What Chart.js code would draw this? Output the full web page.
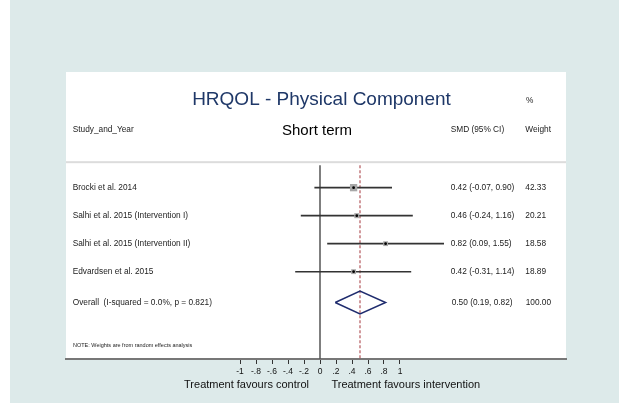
<!DOCTYPE html>
<html>
<head>
<meta charset="utf-8">
<script src="https://cdn.jsdelivr.net/npm/chart.js@4/dist/chart.umd.min.js"></script>
<style>
html,body{margin:0;padding:0;background:#ddeaea;overflow:hidden;}
canvas{display:block;}
</style>
</head>
<body>
<canvas id="c" width="619" height="403"></canvas>
<script>
// ---- data ----
const studies = ["Brocki et al. 2014", "Salhi et al. 2015 (Intervention I)", "Salhi et al. 2015 (Intervention II)", "Edvardsen et al. 2015"];
const smd = [0.42, 0.46, 0.82, 0.42];
const ciLow = [-0.07, -0.24, 0.09, -0.31];
const ciHigh = [0.90, 1.16, 1.55, 1.14];
const weights = [42.33, 20.21, 18.58, 18.89];
const overallLabel = "Overall  (I-squared = 0.0%, p = 0.821)";
const overallSmd = 0.50;
const overallLow = 0.19;
const overallHigh = 0.82;
const overallWeight = 100.00;
const tickValues = [-1, -0.8, -0.6, -0.4, -0.2, 0, 0.2, 0.4, 0.6, 0.8, 1];
const tickLabels = ["-1", "-.8", "-.6", "-.4", "-.2", "0", ".2", ".4", ".6", ".8", "1"];
const titleText = "HRQOL - Physical Component";
const subtitleText = "Short term";
const axisTitleLeft = "Treatment favours control";
const axisTitleRight = "Treatment favours intervention";
const noteText = "NOTE: Weights are from random effects analysis";

// ---- layout constants ----
const FONT = "'Liberation Sans', Arial, sans-serif";
const rows = studies.map((_, i) => i + 1);
const overallRow = 5.1;
const lineTop = 0.2;
const yMin = -3.13, yMax = 7.118;

const fmt = v => v.toFixed(2);

const datasets = [];
// CI lines
studies.forEach((s, i) => {
  datasets.push({
    type: 'line', order: 3,
    data: [{x: ciLow[i], y: rows[i]}, {x: ciHigh[i], y: rows[i]}],
    borderColor: '#333', borderWidth: 1.6, pointRadius: 0, showLine: true
  });
});
// zero line
datasets.push({
  type: 'line', order: 5, data: [{x: 0, y: lineTop}, {x: 0, y: yMax}],
  borderColor: '#555', borderWidth: 1.5, pointRadius: 0, showLine: true
});
// overall dashed line
datasets.push({
  type: 'line', order: 4, data: [{x: overallSmd, y: lineTop}, {x: overallSmd, y: yMax}],
  borderColor: '#a3353a', borderWidth: 1, borderDash: [3, 2], pointRadius: 0, showLine: true
});
// weight squares
datasets.push({
  type: 'scatter', order: 1,
  data: smd.map((v, i) => ({x: v, y: rows[i]})),
  pointStyle: 'rect',
  pointRadius: ctx => 1.12 * Math.sqrt(weights[ctx.dataIndex]) / Math.SQRT2,
  backgroundColor: '#a8a8a8', borderWidth: 0
});
// center dots
datasets.push({
  type: 'scatter', order: 0,
  data: smd.map((v, i) => ({x: v, y: rows[i]})),
  pointStyle: 'circle', pointRadius: 1.4, backgroundColor: '#000', borderWidth: 0
});
// diamond
const dh = 0.41;
datasets.push({
  type: 'line', order: 2,
  data: [
    {x: overallLow, y: overallRow}, {x: overallSmd, y: overallRow - dh},
    {x: overallHigh, y: overallRow}, {x: overallSmd, y: overallRow + dh},
    {x: overallLow, y: overallRow}
  ],
  borderColor: '#1f2c6e', borderWidth: 1.5, pointRadius: 0, showLine: true, fill: false, tension: 0
});

const bgPlugin = {
  id: 'bg',
  beforeDraw(chart) {
    const {ctx, chartArea: a} = chart;
    ctx.save();
    ctx.fillStyle = '#ddeaea';
    ctx.fillRect(0, 0, chart.width, chart.height);
    ctx.fillStyle = '#ffffff';
    ctx.fillRect(0, 0, 10, chart.height);
    ctx.fillRect(a.left, a.top, a.right - a.left, a.bottom - a.top);
    // header separator
    const ys = chart.scales.y.getPixelForValue(0.09);
    ctx.fillStyle = '#dcdcdc';
    ctx.fillRect(a.left, ys - 1, a.right - a.left, 2);
    ctx.restore();
  }
};

const textPlugin = {
  id: 'texts',
  afterDraw(chart) {
    const {ctx, scales} = chart;
    const y = scales.y;
    ctx.save();
    ctx.textBaseline = 'middle';
    // title
    ctx.fillStyle = '#1f3868';
    ctx.font = '19px ' + FONT;
    ctx.textAlign = 'center';
    ctx.fillText(titleText, 321.5, 100);
    ctx.fillStyle = '#000';
    ctx.font = '15px ' + FONT;
    ctx.fillText(subtitleText, 317, 130.5);
    ctx.font = '8.3px ' + FONT;
    ctx.textAlign = 'left';
    ctx.fillStyle = '#222';
    ctx.fillText('%', 526, 101);
    ctx.fillText('Study_and_Year', 72.7, 130);
    ctx.fillText('SMD (95% CI)', 450.7, 130);
    ctx.fillText('Weight', 525.3, 130);
    studies.forEach((s, i) => {
      const py = y.getPixelForValue(rows[i]);
      ctx.fillText(s, 72.7, py);
      ctx.fillText(fmt(smd[i]) + ' (' + fmt(ciLow[i]) + ', ' + fmt(ciHigh[i]) + ')', 450.7, py);
      ctx.fillText(fmt(weights[i]), 525.3, py);
    });
    const po = y.getPixelForValue(overallRow);
    ctx.fillText(overallLabel, 72.7, po);
    ctx.fillText(fmt(overallSmd) + ' (' + fmt(overallLow) + ', ' + fmt(overallHigh) + ')', 451.7, po);
    ctx.fillText(fmt(overallWeight), 525.7, po);
    ctx.font = '5.5px ' + FONT;
    ctx.fillText(noteText, 73, 345);
    // axis titles
    ctx.fillStyle = '#111';
    ctx.font = '11px ' + FONT;
    ctx.textAlign = 'center';
    ctx.fillText(axisTitleLeft, 246.5, 384.5);
    ctx.fillText(axisTitleRight, 405.8, 384.5);
    ctx.restore();
  }
};

new Chart(document.getElementById('c'), {
  type: 'scatter',
  data: {datasets},
  options: {
    responsive: false,
    animation: false,
    devicePixelRatio: 1,
    layout: {padding: {left: 66, right: 53, top: 72, bottom: 0}},
    plugins: {legend: {display: false}, tooltip: {enabled: false}, title: {display: false}},
    scales: {
      x: {
        type: 'linear', min: -3.175, max: 3.075,
        afterBuildTicks: s => { s.ticks = tickValues.map(v => ({value: v})); },
        afterFit: s => { s.height = 44; },
        ticks: {
          autoSkip: false, maxRotation: 0, padding: 3,
          color: '#111', font: {family: FONT, size: 8.5},
          callback: (v) => { const i = tickValues.findIndex(t => Math.abs(t - v) < 1e-9); return i >= 0 ? tickLabels[i] : ''; }
        },
        grid: {display: true, drawOnChartArea: false, drawTicks: true, tickLength: 5, color: '#333', lineWidth: 1},
        border: {display: true, color: '#777', width: 2}
      },
      y: {
        type: 'linear', reverse: true, min: yMin, max: yMax, display: false
      }
    }
  },
  plugins: [bgPlugin, textPlugin]
});
</script>
</body>
</html>
